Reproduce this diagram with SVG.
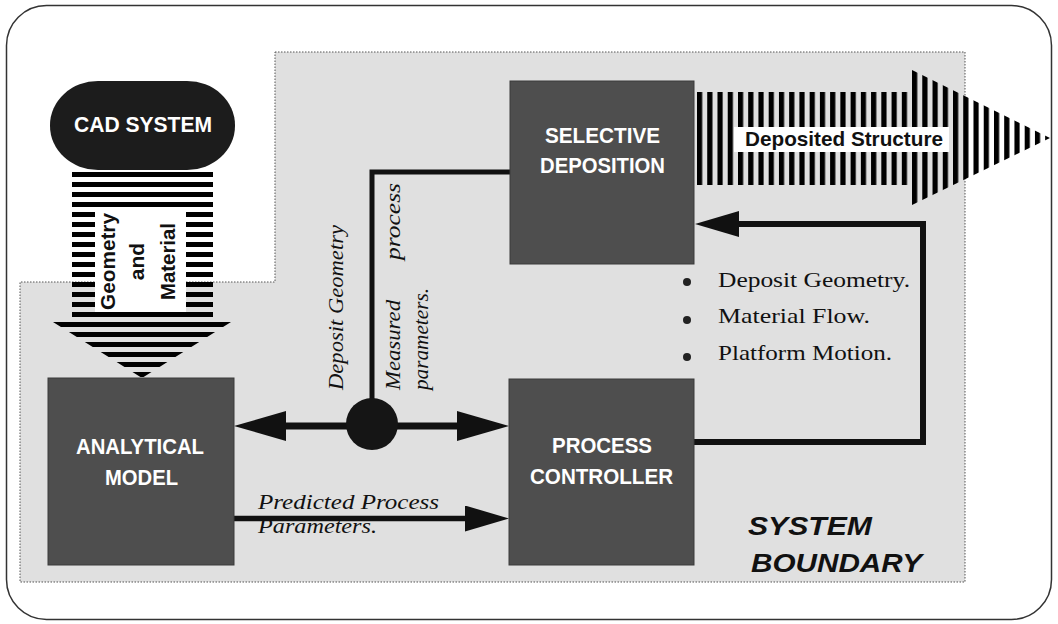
<svg xmlns="http://www.w3.org/2000/svg" width="1058" height="624" viewBox="0 0 1058 624">
<style>
.sans{font-family:"Liberation Sans",Arial,sans-serif;font-weight:bold}
.serif{font-family:"Liberation Serif","Times New Roman",serif}
.box{fill:#4e4e4e;stroke:#3a3a3a;stroke-width:1}
.boxtxt{fill:#ffffff;font-size:22px;text-anchor:middle}
.it{font-style:italic;font-size:22px;fill:#111}
.conn{fill:none;stroke:#111}
</style>
<defs>
<pattern id="hstripe" patternUnits="userSpaceOnUse" x="0" y="172" width="10" height="10">
<rect x="0" y="0" width="10" height="5" fill="#000"/>
</pattern>
<pattern id="vbars" patternUnits="userSpaceOnUse" x="697" y="0" width="10.24" height="10">
<rect x="0" y="0" width="5.2" height="10" fill="#000"/>
</pattern>
<marker id="ah" markerUnits="userSpaceOnUse" viewBox="0 0 52 30" markerWidth="52" markerHeight="30" refX="26" refY="15" orient="auto-start-reverse">
<path d="M0,0 L52,15 L0,30 Z" fill="#111"/>
</marker>
<marker id="ahs" markerUnits="userSpaceOnUse" viewBox="0 0 44 26" markerWidth="44" markerHeight="26" refX="22" refY="13" orient="auto">
<path d="M0,0 L44,13 L0,26 Z" fill="#111"/>
</marker>
</defs>
<rect x="0" y="0" width="1058" height="624" fill="#fff"/>
<rect id="frame" x="6.5" y="5.5" width="1045" height="614" rx="40" ry="40" fill="none" stroke="#333" stroke-width="1.5"/>
<g id="system-boundary">
<path d="M275,52 H965 V582 H20 V282 H275 Z" fill="#e0e0e0" stroke="#555" stroke-width="1" stroke-dasharray="1.5 1.5"/>
<text class="sans" x="748" y="535" font-size="26" font-style="italic" fill="#111" textLength="124" lengthAdjust="spacingAndGlyphs">SYSTEM</text>
<text class="sans" x="751" y="572" font-size="26" font-style="italic" fill="#111" textLength="171" lengthAdjust="spacingAndGlyphs">BOUNDARY</text>
</g>
<g id="geometry-material-arrow">
<path d="M72,172 H213 V322 H231 L142,378 L53,322 H72 Z" fill="url(#hstripe)"/>
<rect x="95" y="208" width="91" height="104" fill="#fff"/>
<g class="sans" font-size="21" fill="#111" text-anchor="middle">
<text transform="translate(115,261.5) rotate(-90)" textLength="97" lengthAdjust="spacingAndGlyphs">Geometry</text>
<text transform="translate(144,261.5) rotate(-90)">and</text>
<text transform="translate(175,261.5) rotate(-90)" textLength="77" lengthAdjust="spacingAndGlyphs">Material</text>
</g>
</g>
<g id="deposited-structure-arrow">
<path d="M697,92 H912 V70 L1050,138 L912,205 V185 H697 Z" fill="url(#vbars)"/>
<rect x="734" y="127" width="215" height="25" fill="#fff"/>
<text class="sans" x="745" y="146" font-size="21" fill="#111" textLength="198" lengthAdjust="spacingAndGlyphs">Deposited Structure</text>
</g>
<g id="connectors">
<path class="conn" d="M372,424 V172 H510" stroke-width="5"/>
<line class="conn" x1="260" y1="426" x2="483" y2="426" stroke-width="7" marker-start="url(#ah)" marker-end="url(#ah)"/>
<line class="conn" x1="234" y1="518.5" x2="487" y2="518.5" stroke-width="5.5" marker-end="url(#ahs)"/>
<path class="conn" d="M694,442 H923 V224 H717" stroke-width="6" marker-end="url(#ahs)"/>
</g>
<g id="junction">
<circle cx="372" cy="424" r="26" fill="#151515"/>
</g>
<g id="cad-system">
<rect x="50" y="81" width="185" height="89" rx="48" ry="44" fill="#1c1c1c"/>
<text class="sans" x="143" y="132" font-size="22" fill="#fff" text-anchor="middle" textLength="138" lengthAdjust="spacingAndGlyphs">CAD SYSTEM</text>
</g>
<g id="selective-deposition">
<rect class="box" x="510" y="81" width="184" height="183"/>
<text class="sans boxtxt" x="602.5" y="143" textLength="115" lengthAdjust="spacingAndGlyphs">SELECTIVE</text>
<text class="sans boxtxt" x="602.5" y="173" textLength="125" lengthAdjust="spacingAndGlyphs">DEPOSITION</text>
</g>
<g id="analytical-model">
<rect class="box" x="48" y="378" width="186" height="187"/>
<text class="sans boxtxt" x="140" y="454" textLength="128" lengthAdjust="spacingAndGlyphs">ANALYTICAL</text>
<text class="sans boxtxt" x="141.5" y="485" textLength="73" lengthAdjust="spacingAndGlyphs">MODEL</text>
</g>
<g id="process-controller">
<rect class="box" x="509" y="379" width="185" height="186"/>
<text class="sans boxtxt" x="602" y="453" textLength="100" lengthAdjust="spacingAndGlyphs">PROCESS</text>
<text class="sans boxtxt" x="601.5" y="484" textLength="143" lengthAdjust="spacingAndGlyphs">CONTROLLER</text>
</g>
<g id="labels">
<text class="serif it" transform="translate(343,390) rotate(-90)" textLength="165" lengthAdjust="spacingAndGlyphs">Deposit Geometry</text>
<text class="serif it" transform="translate(400,390) rotate(-90)" textLength="90" lengthAdjust="spacingAndGlyphs">Measured</text>
<text class="serif it" transform="translate(400,260) rotate(-90)" textLength="77" lengthAdjust="spacingAndGlyphs">process</text>
<text class="serif it" transform="translate(428,390) rotate(-90)" textLength="102" lengthAdjust="spacingAndGlyphs">parameters.</text>
<text class="serif it" x="258" y="509" textLength="181" lengthAdjust="spacingAndGlyphs">Predicted Process</text>
<text class="serif it" x="258" y="533" textLength="119" lengthAdjust="spacingAndGlyphs">Parameters.</text>
</g>
<g id="bullets" class="serif" font-size="21" fill="#111">
<circle cx="687" cy="282" r="4" fill="#222"/>
<circle cx="687" cy="320" r="4" fill="#222"/>
<circle cx="687" cy="357" r="4" fill="#222"/>
<text x="718" y="287" textLength="192" lengthAdjust="spacingAndGlyphs">Deposit Geometry.</text>
<text x="718" y="323" textLength="152" lengthAdjust="spacingAndGlyphs">Material Flow.</text>
<text x="718" y="360" textLength="174" lengthAdjust="spacingAndGlyphs">Platform Motion.</text>
</g>
</svg>
